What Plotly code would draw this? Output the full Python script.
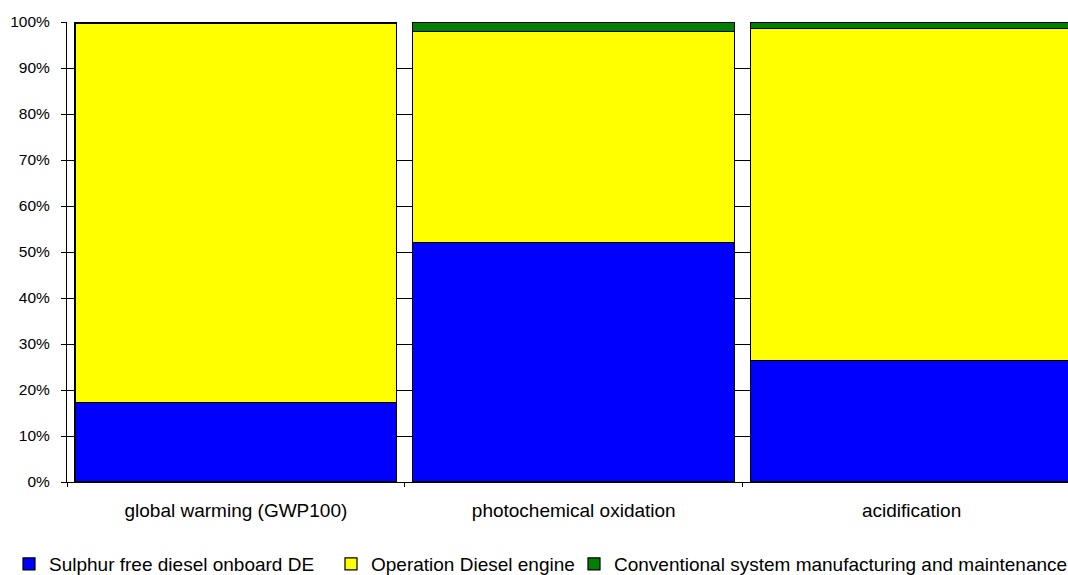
import plotly.graph_objects as go

# Impact categories on the x axis
categories = ["global warming (GWP100)", "photochemical oxidation", "acidification"]

# Share of each life-cycle stage per impact category (fractions of 100 %)
sulphur_free_diesel = [0.172, 0.520, 0.264]
operation_diesel_engine = [0.826, 0.459, 0.722]
conventional_system = [0.002, 0.021, 0.014]

series_names = [
    "Sulphur free diesel onboard DE",
    "Operation Diesel engine",
    "Conventional system manufacturing and maintenance",
]
series_values = [sulphur_free_diesel, operation_diesel_engine, conventional_system]
series_colors = ["#0000FF", "#FFFF00", "#008000"]
legend_ids = ["legend", "legend2", "legend3"]

FONT = "Liberation Sans, Arial, sans-serif"

fig = go.Figure()
for name, vals, color, lg in zip(series_names, series_values, series_colors, legend_ids):
    fig.add_trace(
        go.Bar(
            x=categories,
            y=vals,
            name=name,
            marker=dict(color=color, line=dict(color="#000000", width=1.2)),
            legend=lg,
            hoverinfo="x+y+name",
        )
    )

# Legends sit in container coordinates so they do not push the plot margins
legend_common = dict(
    orientation="h",
    xref="container",
    yref="container",
    yanchor="middle",
    y=0.019,
    xanchor="left",
    font=dict(family=FONT, size=19, color="#000000"),
    bgcolor="rgba(0,0,0,0)",
    borderwidth=0,
    itemclick=False,
    itemdoubleclick=False,
)

fig.update_layout(
    width=1068,
    height=575,
    margin=dict(l=67, r=0, t=22, b=93),
    paper_bgcolor="#FFFFFF",
    plot_bgcolor="#FFFFFF",
    barmode="stack",
    bargap=0.047,
    showlegend=True,
    font=dict(family=FONT, color="#000000"),
    legend=dict(legend_common, x=9 / 1068),
    legend2=dict(legend_common, x=331 / 1068),
    legend3=dict(legend_common, x=574 / 1068),
    xaxis=dict(
        type="category",
        range=[-0.5, 2.463],
        showline=True,
        linecolor="#000000",
        linewidth=1,
        ticks="outside",
        tickson="boundaries",
        ticklen=4,
        tickcolor="#000000",
        showgrid=False,
        tickfont=dict(family=FONT, size=19, color="#000000"),
        ticklabelstandoff=11,
    ),
    yaxis=dict(
        range=[0, 1],
        dtick=0.1,
        tickformat=".0%",
        showline=True,
        linecolor="#000000",
        linewidth=1,
        ticks="outside",
        ticklen=5,
        tickcolor="#000000",
        showgrid=True,
        gridcolor="#000000",
        gridwidth=1,
        zeroline=False,
        tickfont=dict(family=FONT, size=15.5, color="#000000"),
        ticklabelstandoff=8,
    ),
)

fig.write_html("out.html")
